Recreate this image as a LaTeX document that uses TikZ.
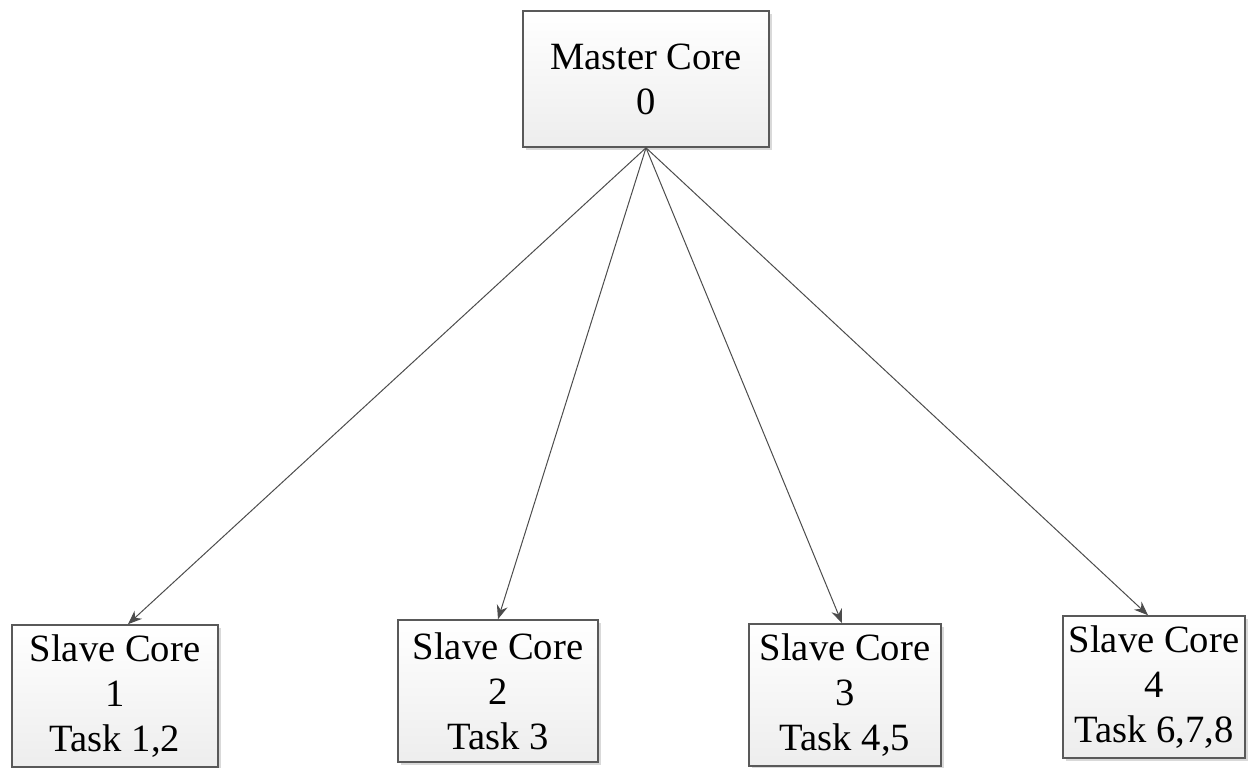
\documentclass[tikz,border=0pt]{standalone}
\usepackage{fontspec}
\setmainfont{Liberation Serif}
\usetikzlibrary{arrows.meta,shadows}
\begin{document}
\begin{tikzpicture}[x=0.5pt,y=-0.5pt,
  core/.style={draw=black!65, line width=0.8pt, top color=white, bottom color=black!7,
    align=center, inner sep=0pt, font=\fontsize{19.3}{22.5}\selectfont,
    drop shadow={shadow xshift=1.5pt, shadow yshift=-1.5pt, fill=black!25, opacity=0.6}},
  link/.style={draw=black!70, line width=0.5pt, -{Stealth[length=7pt,width=5.5pt]}}]
\useasboundingbox (0,0) rectangle (1258,767);
\clip (0,0) rectangle (1258,767);

% master core
\node[core, minimum width=123pt, minimum height=68pt] (m) at (646,79) {Master Core\\0};

% slave cores
\node[core, minimum width=103pt, minimum height=71pt] (s1) at (115,696) {Slave Core\\1\\Task 1,2};
\node[core, minimum width=100pt, minimum height=71pt] (s2) at (498,691) {Slave Core\\2\\Task 3};
\node[core, minimum width=96pt,  minimum height=71pt] (s3) at (845,695) {Slave Core\\3\\Task 4,5};
\node[core, minimum width=91pt,  minimum height=71pt] (s4) at (1154,687) {Slave Core\\4\\Task 6,7,8};

% task distribution
\draw[link] (m.south) -- ([xshift=6.5pt]s1.north);
\draw[link] (m.south) -- (s2.north);
\draw[link] (m.south) -- ([xshift=-1.5pt]s3.north);
\draw[link] (m.south) -- ([xshift=-3pt]s4.north);
\end{tikzpicture}
\end{document}
